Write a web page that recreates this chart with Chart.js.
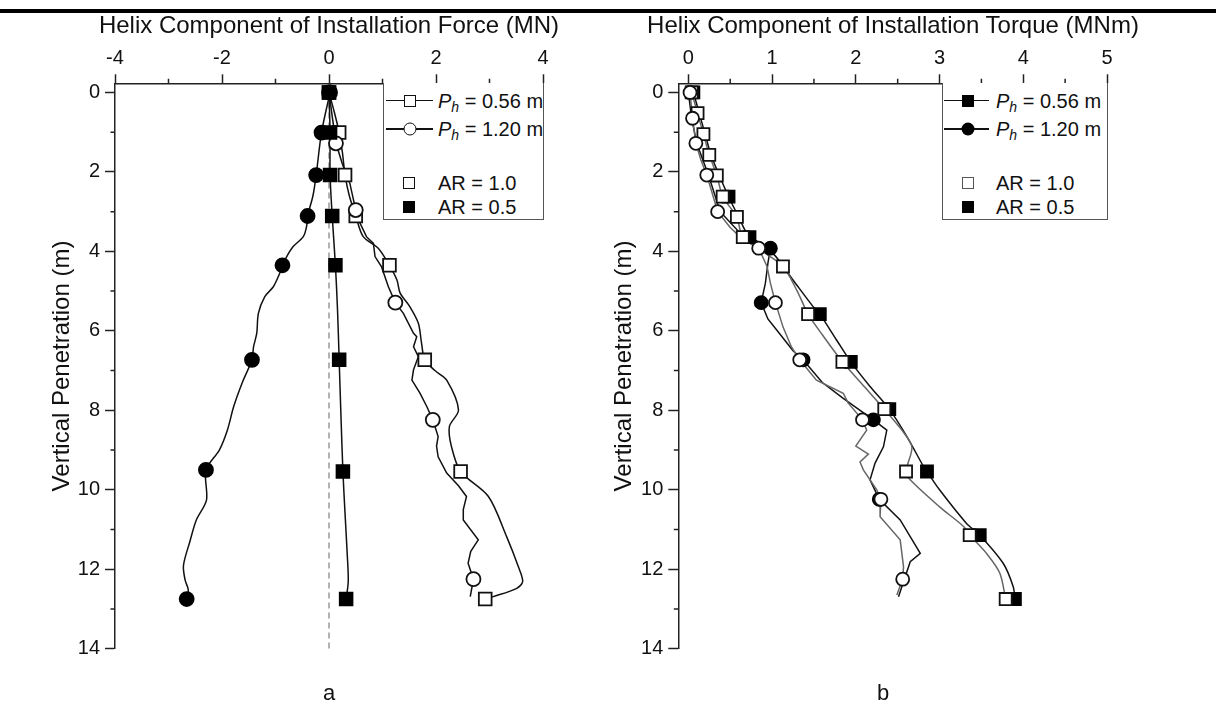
<!DOCTYPE html>
<html><head><meta charset="utf-8">
<script src="https://cdn.jsdelivr.net/npm/chart.js@4.4.1/dist/chart.umd.min.js"></script>
<style>
html,body{margin:0;padding:0;background:#fff;width:1216px;height:709px;overflow:hidden;font-family:"Liberation Sans",Arial,sans-serif;color:#111;}
canvas{position:absolute;top:0;}
.rule{position:absolute;left:0;top:9px;width:1216px;height:4px;background:#000;}
.lbl{position:absolute;font-size:22px;transform:translate(-50%,-50%);}
.ttl{position:absolute;font-size:24px;white-space:nowrap;transform:translate(-50%,-50%);line-height:28px;}
.leg{position:absolute;top:83px;height:137px;border:1px solid #555;border-top:none;box-sizing:border-box;background:#fff;}
.row{position:absolute;left:0;width:100%;height:0;}
.row .ln{position:absolute;top:-0.75px;height:1.5px;background:#111;}
.row .mk{position:absolute;box-sizing:border-box;transform:translate(-50%,-50%);top:0;}
.row .tx{position:absolute;top:0;transform:translateY(-50%);font-size:20px;white-space:nowrap;line-height:24px;}
.row .tx sub{font-size:14px;vertical-align:-4px;line-height:0;}
</style></head>
<body>
<div class="rule"></div>
<canvas id="cA" width="600" height="709" style="left:0"></canvas>
<canvas id="cB" width="616" height="709" style="left:600px"></canvas>

<div class="ttl" id="tA" style="left:329px;top:25px"></div>
<div class="ttl" id="tB" style="left:893px;top:25px"></div>

<div class="leg" style="left:383px;width:161px;">
  <div class="row" style="top:17.7px"><div class="ln" style="left:2px;width:47px"></div><div class="mk" style="left:26px;width:12px;height:12px;border:1.6px solid #111;background:#fff"></div><div class="tx" style="left:54px"><i>P</i><sub><i>h</i></sub> = 0.56 m</div></div>
  <div class="row" style="top:46px"><div class="ln" style="left:2px;width:47px"></div><div class="mk" style="left:26px;width:13px;height:13px;border:1.6px solid #111;border-radius:50%;background:#fff"></div><div class="tx" style="left:54px"><i>P</i><sub><i>h</i></sub> = 1.20 m</div></div>
  <div class="row" style="top:99.7px"><div class="mk" style="left:25px;width:12px;height:12px;border:1.6px solid #111;background:#fff"></div><div class="tx" style="left:54px">AR = 1.0</div></div>
  <div class="row" style="top:123.7px"><div class="mk" style="left:25px;width:12px;height:12px;background:#000"></div><div class="tx" style="left:54px">AR = 0.5</div></div>
</div>
<div class="leg" style="left:942px;width:166px;">
  <div class="row" style="top:17.7px"><div class="ln" style="left:1px;width:45px"></div><div class="mk" style="left:24.7px;width:12px;height:12px;background:#000"></div><div class="tx" style="left:53px"><i>P</i><sub><i>h</i></sub> = 0.56 m</div></div>
  <div class="row" style="top:46px"><div class="ln" style="left:1px;width:45px"></div><div class="mk" style="left:24.7px;width:13px;height:13px;border-radius:50%;background:#000"></div><div class="tx" style="left:53px"><i>P</i><sub><i>h</i></sub> = 1.20 m</div></div>
  <div class="row" style="top:99.7px"><div class="mk" style="left:24.7px;width:12px;height:12px;border:1.5px solid #555;background:#fff"></div><div class="tx" style="left:53px">AR = 1.0</div></div>
  <div class="row" style="top:123.7px"><div class="mk" style="left:24.7px;width:12px;height:12px;background:#000"></div><div class="tx" style="left:53px">AR = 0.5</div></div>
</div>
<div class="lbl" style="left:329px;top:693px">a</div>
<div class="lbl" style="left:883px;top:693px">b</div>

<script>
// ---------- Titles ----------
const forceTitle = 'Helix Component of Installation Force (MN)';
const torqueTitle = 'Helix Component of Installation Torque (MNm)';
const depthTitle = 'Vertical Penetration (m)';

// ---------- Tick values / labels ----------
const depthTicks = [0, 2, 4, 6, 8, 10, 12, 14];
const depthTickLabels = ['0','2','4','6','8','10','12','14'];
const depthMinor = [1, 3, 5, 7, 9, 11, 13];
const forceTicks = [-4, -2, 0, 2, 4];
const forceTickLabels = ['-4','-2','0','2','4'];
const forceMinor = [-3, -1, 1, 3];
const torqueTicks = [0, 1, 2, 3, 4, 5];
const torqueTickLabels = ['0','1','2','3','4','5'];
const torqueMinor = [0.5, 1.5, 2.5, 3.5, 4.5];

// ---------- Panel a: helix force (MN) vs depth (m), [force, depth] ----------
const forceLine_P056_AR10 = [[0,0],[0.10,0.5],[0.19,1.01],[0.25,1.5],[0.30,2.08],[0.38,2.6],[0.50,3.11],[0.64,3.63],[0.92,3.92],[1.13,4.35],[1.27,4.72],[1.33,5.05],[1.51,5.39],[1.67,5.81],[1.73,6.31],[1.79,6.73],[1.98,7.0],[2.2,7.24],[2.42,7.99],[2.25,8.41],[2.29,8.92],[2.46,9.54],[2.98,10.17],[3.32,11.18],[3.54,11.94],[3.62,12.31],[3.51,12.48],[3.07,12.69],[2.92,12.75]];
const forceLine_P120_AR10 = [[0,0],[0.06,0.6],[0.13,1.28],[0.25,1.8],[0.39,2.29],[0.50,2.96],[0.58,3.29],[0.70,3.63],[0.83,3.80],[0.86,4.13],[0.98,4.38],[1.11,4.89],[1.24,5.29],[1.39,5.56],[1.58,6.06],[1.64,6.15],[1.58,6.40],[1.67,6.65],[1.58,6.98],[1.55,7.24],[1.70,7.57],[1.83,7.91],[1.94,8.24],[2.04,8.66],[2.01,8.9],[2.04,9.17],[2.20,9.58],[2.42,9.9],[2.57,10.17],[2.51,10.5],[2.51,10.76],[2.79,11.26],[2.65,11.55],[2.60,11.85],[2.70,12.25],[2.64,12.69]];
const forceLine_P056_AR05 = [[0,0],[0.02,1.01],[0.02,2.08],[0.06,3.11],[0.12,4.35],[0.16,5.5],[0.19,6.73],[0.22,8.0],[0.26,9.54],[0.30,10.6],[0.34,11.6],[0.36,12.3],[0.32,12.75]];
const forceLine_P120_AR05 = [[0.02,0],[-0.14,1.01],[-0.24,2.08],[-0.30,2.6],[-0.40,3.11],[-0.42,3.38],[-0.48,3.63],[-0.67,3.88],[-0.79,4.13],[-0.87,4.35],[-0.92,4.55],[-1.04,4.89],[-1.20,5.14],[-1.32,5.56],[-1.35,6.06],[-1.41,6.40],[-1.44,6.73],[-1.62,7.3],[-1.78,7.9],[-1.90,8.5],[-2.05,9.0],[-2.3,9.5],[-2.29,10.26],[-2.48,10.76],[-2.60,11.3],[-2.72,11.9],[-2.69,12.27],[-2.63,12.52],[-2.66,12.75]];
const forceMark_P056_AR10 = [[0,0],[0.19,1.01],[0.30,2.08],[0.50,3.11],[1.13,4.35],[1.79,6.73],[2.46,9.54],[2.92,12.75]];
const forceMark_P120_AR10 = [[0,0],[0.13,1.28],[0.50,2.96],[1.24,5.29],[1.94,8.24],[2.70,12.25]];
const forceMark_P056_AR05 = [[0,0],[0.02,1.01],[0.02,2.08],[0.06,3.11],[0.12,4.35],[0.19,6.73],[0.26,9.54],[0.32,12.75]];
const forceMark_P120_AR05 = [[0.02,0],[-0.14,1.01],[-0.24,2.08],[-0.40,3.11],[-0.87,4.35],[-1.44,6.73],[-2.3,9.5],[-2.66,12.75]];
const zeroRef = [[0,0],[0,14]];

// ---------- Panel b: helix torque (MNm) vs depth (m), [torque, depth] ----------
const torqueLine_P056_AR10 = [[0.04,0],[0.11,0.52],[0.18,1.05],[0.25,1.57],[0.34,2.09],[0.41,2.62],[0.52,2.95],[0.58,3.13],[0.65,3.64],[0.85,3.95],[1.13,4.38],[1.30,5.0],[1.43,5.58],[1.60,6.1],[1.84,6.78],[2.10,7.4],[2.34,7.97],[2.55,8.5],[2.67,8.92],[2.60,9.54],[2.65,9.75],[3.0,10.43],[3.29,10.93],[3.36,11.14],[3.56,11.6],[3.72,12.1],[3.79,12.75]];
const torqueLine_P056_AR05 = [[0.06,0],[0.13,0.52],[0.20,1.05],[0.27,1.57],[0.37,2.09],[0.48,2.62],[0.60,3.13],[0.73,3.64],[1.01,4.05],[1.25,4.72],[1.49,5.39],[1.57,5.58],[1.77,6.23],[1.94,6.78],[2.17,7.4],[2.40,7.97],[2.61,8.66],[2.81,9.42],[2.85,9.54],[3.0,10.0],[3.32,10.84],[3.48,11.14],[3.76,11.85],[3.88,12.44],[3.90,12.75]];
const torqueLine_P120_AR10 = [[0.02,0],[0.05,0.65],[0.09,1.28],[0.15,1.7],[0.22,2.08],[0.28,2.5],[0.35,3.0],[0.5,3.4],[0.65,3.7],[0.84,3.92],[0.94,4.38],[0.98,4.8],[1.04,5.29],[1.13,5.9],[1.23,6.4],[1.33,6.73],[1.53,7.24],[1.85,7.57],[1.91,7.82],[2.08,8.24],[2.13,8.5],[2.0,8.9],[2.15,9.1],[2.05,9.3],[2.09,9.5],[2.25,10.0],[2.30,10.24],[2.29,10.68],[2.53,11.26],[2.57,11.94],[2.56,12.25],[2.49,12.65]];
const torqueLine_P120_AR05 = [[0.0,0],[0.04,0.65],[0.10,1.28],[0.24,2.08],[0.38,3.0],[0.6,3.5],[0.98,3.92],[0.95,4.3],[0.92,4.8],[0.87,5.29],[0.95,5.7],[1.10,6.1],[1.25,6.5],[1.37,6.73],[1.6,7.3],[1.85,7.7],[2.21,8.24],[2.37,8.5],[2.33,8.92],[2.23,9.33],[2.17,9.75],[2.28,10.24],[2.53,10.76],[2.77,11.6],[2.65,11.81],[2.58,12.25],[2.51,12.69]];
const torqueMark_P056_AR10 = [[0.04,0],[0.11,0.52],[0.18,1.05],[0.25,1.57],[0.34,2.09],[0.41,2.62],[0.58,3.13],[0.65,3.64],[1.13,4.38],[1.43,5.58],[1.84,6.78],[2.34,7.97],[2.60,9.54],[3.36,11.14],[3.79,12.75]];
const torqueMark_P056_AR05 = [[0.06,0],[0.48,2.62],[0.73,3.64],[1.57,5.58],[1.94,6.78],[2.40,7.97],[2.85,9.54],[3.48,11.14],[3.90,12.75]];
const torqueMark_P120_AR10 = [[0.02,0],[0.05,0.65],[0.09,1.28],[0.22,2.08],[0.35,3.0],[0.84,3.92],[1.04,5.29],[1.33,6.73],[2.08,8.24],[2.30,10.24],[2.56,12.25]];
const torqueMark_P120_AR05 = [[0.98,3.92],[0.87,5.29],[1.37,6.73],[2.21,8.24],[2.28,10.24]];

document.getElementById('tA').textContent = forceTitle;
document.getElementById('tB').textContent = torqueTitle;

// ---------- helpers ----------
const FONT = '"Liberation Sans", Arial, sans-serif';
const pts = arr => arr.map(([x, y]) => ({x, y}));
function lineDS(arr, color, tension, order, dash) {
  return {data: pts(arr), showLine: true, borderColor: color, borderWidth: 1.5, pointRadius: 0,
          tension: tension, fill: false, order: order, borderDash: dash || [], clip: false};
}
function markDS(arr, style, filled, radius, order, edge) {
  return {data: pts(arr), showLine: false, pointStyle: style, pointRadius: radius, pointHoverRadius: radius,
          pointBackgroundColor: filled ? '#000' : '#fff', pointBorderColor: filled ? '#000' : (edge || '#111'),
          pointBorderWidth: 1.8, order: order, clip: false};
}
const minorTicks = {
  id: 'minorTicks',
  afterDraw(chart, args, opts) {
    const {ctx, chartArea} = chart;
    const xs = chart.scales.x, ys = chart.scales.y;
    ctx.save();
    ctx.strokeStyle = '#222'; ctx.lineWidth = 1.5;
    ctx.beginPath();
    (opts.x || []).forEach(v => { const p = xs.getPixelForValue(v); ctx.moveTo(p, chartArea.top); ctx.lineTo(p, chartArea.top - 4.5); });
    (opts.y || []).forEach(v => { const p = ys.getPixelForValue(v); ctx.moveTo(chartArea.left, p); ctx.lineTo(chartArea.left - 4.5, p); });
    ctx.stroke();
    ctx.restore();
  }
};
function makeOptions(cfg) {
  return {
    responsive: false, animation: false, devicePixelRatio: 1,
    layout: {padding: {left: 0, top: 0, right: cfg.padRight, bottom: 60.3}},
    plugins: {legend: {display: false}, tooltip: {enabled: false}, minorTicks: {x: cfg.minorX, y: depthMinor}},
    scales: {
      x: {
        type: 'linear', position: 'top', min: cfg.xmin, max: cfg.xmax,
        afterBuildTicks: s => { s.ticks = cfg.xTicks.map(v => ({value: v})); },
        afterFit: s => { s.height = 83.3; },
        ticks: {color: '#111', font: {family: FONT, size: 20}, padding: 4,
                callback: (v) => cfg.xLabels[cfg.xTicks.indexOf(v)]},
        grid: {drawOnChartArea: false, drawTicks: true, tickLength: 9, tickColor: '#222', tickWidth: 1.5},
        border: {display: true, color: '#222', width: 1.5},
        title: {display: false}
      },
      y: {
        type: 'linear', position: 'left', reverse: true, min: -0.23, max: 14,
        afterBuildTicks: s => { s.ticks = depthTicks.map(v => ({value: v})); },
        afterFit: s => { s.width = cfg.yWidth; },
        ticks: {color: '#111', font: {family: FONT, size: 20}, padding: 5,
                callback: (v) => depthTickLabels[depthTicks.indexOf(v)]},
        grid: {drawOnChartArea: false, drawTicks: true, tickLength: 10, tickColor: '#222', tickWidth: 1.5},
        border: {display: true, color: '#222', width: 1.5},
        title: {display: true, text: depthTitle, color: '#111', font: {family: FONT, size: 24},
                padding: {top: cfg.yTitlePad, bottom: 0}}
      }
    }
  };
}

// ---------- Panel a ----------
new Chart(document.getElementById('cA'), {
  type: 'scatter',
  data: {datasets: [
    markDS(forceMark_P120_AR05, 'circle', true, 7, 1),
    markDS(forceMark_P056_AR05, 'rect', true, 9, 2),
    markDS(forceMark_P120_AR10, 'circle', false, 7, 3),
    markDS(forceMark_P056_AR10, 'rect', false, 9, 4),
    lineDS(forceLine_P056_AR10, '#111', 0.3, 10),
    lineDS(forceLine_P120_AR10, '#111', 0, 11),
    lineDS(forceLine_P056_AR05, '#111', 0.3, 12),
    lineDS(forceLine_P120_AR05, '#111', 0.3, 13),
    lineDS(zeroRef, '#999', 0, 20, [6, 4])
  ]},
  options: makeOptions({padRight: 57, xmin: -4, xmax: 4, xTicks: forceTicks, xLabels: forceTickLabels,
    minorX: forceMinor, yWidth: 115, yTitlePad: 47.6}),
  plugins: [minorTicks]
});

// ---------- Panel b ----------
new Chart(document.getElementById('cB'), {
  type: 'scatter',
  data: {datasets: [
    markDS(torqueMark_P120_AR10, 'circle', false, 6.5, 1),
    markDS(torqueMark_P056_AR10, 'rect', false, 8.5, 2),
    markDS(torqueMark_P120_AR05, 'circle', true, 6.5, 3),
    markDS(torqueMark_P056_AR05, 'rect', true, 8.5, 4),
    lineDS(torqueLine_P056_AR10, '#666', 0.3, 10),
    lineDS(torqueLine_P120_AR10, '#666', 0, 11),
    lineDS(torqueLine_P056_AR05, '#111', 0.3, 12),
    lineDS(torqueLine_P120_AR05, '#111', 0, 13)
  ]},
  options: makeOptions({padRight: 109, xmin: -0.12, xmax: 5, xTicks: torqueTicks, xLabels: torqueTickLabels,
    minorX: torqueMinor, yWidth: 78.3, yTitlePad: 9.6}),
  plugins: [minorTicks]
});
</script>
</body></html>
